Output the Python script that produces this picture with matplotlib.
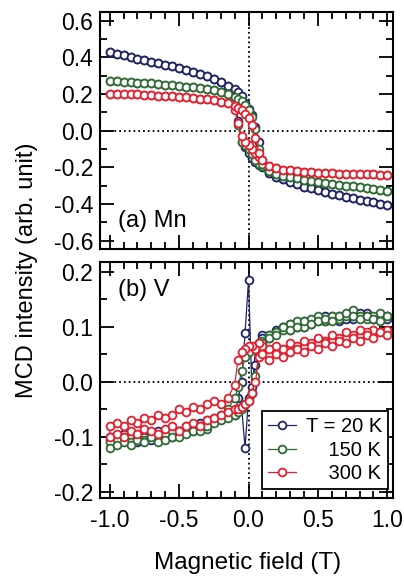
import matplotlib
matplotlib.use("Agg")
import matplotlib.pyplot as plt
from matplotlib.ticker import MultipleLocator

plt.rcParams['font.family'] = ['Liberation Sans', 'DejaVu Sans']
plt.rcParams['axes.unicode_minus'] = False

# ---------- data ----------
# field grid pieces (T)
H_NEG = [-1.0, -0.95, -0.9, -0.85, -0.8, -0.75, -0.7, -0.65, -0.6, -0.55,
         -0.5, -0.45, -0.4, -0.35, -0.3, -0.25, -0.2, -0.15]
H_MID = [-0.1, -0.075, -0.05, -0.025, 0.0, 0.025, 0.05, 0.075, 0.1]
H_POS = [0.15, 0.2, 0.25, 0.3, 0.35, 0.4, 0.45, 0.5, 0.55, 0.6,
         0.65, 0.7, 0.75, 0.8, 0.85, 0.9, 0.95, 1.0]

# padded so the legend labels line up on the right
labels = ["T = 20 K", "    150 K", "    300 K"]
colors = ["#1f2466", "#2f6b35", "#e41f2d"]

# (a) Mn -- both branches coincide away from zero field
mn20_neg = [0.43, 0.42, 0.41, 0.40, 0.392, 0.384, 0.376, 0.368, 0.36, 0.35,
            0.34, 0.33, 0.32, 0.31, 0.296, 0.28, 0.265, 0.245]
mn20_pos = [-0.23, -0.25, -0.265, -0.28, -0.293, -0.305, -0.315, -0.325, -0.334,
            -0.343, -0.352, -0.36, -0.368, -0.376, -0.384, -0.391, -0.398, -0.405]
mn20_up = [0.225, 0.21, 0.19, 0.15, 0.12, 0.085, 0.02, -0.06, -0.19]
mn20_dn = [0.19, 0.05, -0.06, -0.09, -0.12, -0.15, -0.17, -0.185, -0.2]

mn150_neg = [0.27, 0.268, 0.266, 0.264, 0.262, 0.26, 0.257, 0.254, 0.251, 0.248,
             0.244, 0.24, 0.236, 0.231, 0.226, 0.22, 0.212, 0.2]
mn150_pos = [-0.222, -0.235, -0.245, -0.253, -0.26, -0.267, -0.273, -0.279, -0.284,
             -0.289, -0.294, -0.299, -0.304, -0.309, -0.314, -0.319, -0.324, -0.33]
mn150_up = [0.185, 0.175, 0.16, 0.14, 0.11, 0.075, 0.01, -0.1, -0.18]
mn150_dn = [0.16, 0.03, -0.06, -0.08, -0.1, -0.13, -0.16, -0.18, -0.19]

mn300_neg = [0.2, 0.2, 0.199, 0.198, 0.197, 0.195, 0.193, 0.191, 0.189, 0.187,
             0.184, 0.181, 0.178, 0.174, 0.17, 0.165, 0.158, 0.148]
mn300_pos = [-0.195, -0.205, -0.212, -0.217, -0.221, -0.224, -0.227, -0.229, -0.231,
             -0.233, -0.234, -0.235, -0.236, -0.237, -0.238, -0.239, -0.24, -0.24]
mn300_up = [0.135, 0.125, 0.11, 0.09, 0.07, 0.03, -0.04, -0.12, -0.16]
mn300_dn = [0.11, 0.04, -0.03, -0.06, -0.08, -0.1, -0.12, -0.145, -0.16]

# (b) V -- noisy, branches listed separately (up: -1 -> +1, dn: +1 -> -1)
v20_up = [-0.105, -0.1, -0.105, -0.1, -0.11, -0.1, -0.105, -0.1, -0.095, -0.1,
          -0.09, -0.09, -0.085, -0.08, -0.08, -0.07, -0.065, -0.06,
          -0.055, -0.05, -0.045, -0.12, -0.03, -0.01, 0.03, 0.06, 0.08,
          0.08, 0.09, 0.1, 0.105, 0.1, 0.11, 0.105, 0.11, 0.12,
          0.115, 0.12, 0.115, 0.12, 0.125, 0.12, 0.115, 0.12, 0.115]
v20_dn = [-0.1, -0.105, -0.095, -0.1, -0.105, -0.095, -0.1, -0.09, -0.095, -0.085,
          -0.09, -0.08, -0.085, -0.075, -0.07, -0.065, -0.06, -0.06,
          -0.06, -0.03, 0.0, 0.088, 0.185, -0.02, 0.06, 0.07, 0.085,
          0.085, 0.095, 0.1, 0.095, 0.105, 0.1, 0.11, 0.115, 0.11,
          0.12, 0.11, 0.12, 0.115, 0.12, 0.125, 0.115, 0.12, 0.12]

v150_up = [-0.12, -0.115, -0.11, -0.115, -0.105, -0.11, -0.1, -0.11, -0.105, -0.1,
           -0.1, -0.095, -0.09, -0.09, -0.08, -0.075, -0.07, -0.065,
           -0.06, -0.055, -0.05, -0.04, -0.035, -0.02, 0.01, 0.05, 0.07,
           0.08, 0.085, 0.1, 0.095, 0.1, 0.11, 0.105, 0.11, 0.115,
           0.11, 0.12, 0.125, 0.12, 0.115, 0.12, 0.115, 0.11, 0.12]
v150_dn = [-0.11, -0.105, -0.1, -0.11, -0.1, -0.105, -0.095, -0.1, -0.095, -0.09,
           -0.095, -0.085, -0.09, -0.08, -0.085, -0.07, -0.065, -0.05,
           -0.03, -0.01, 0.02, 0.045, 0.055, 0.06, 0.065, 0.07, 0.075,
           0.085, 0.09, 0.095, 0.105, 0.11, 0.1, 0.115, 0.12, 0.11,
           0.12, 0.115, 0.12, 0.13, 0.12, 0.115, 0.12, 0.125, 0.12]

v300_up = [-0.1, -0.095, -0.1, -0.09, -0.095, -0.085, -0.09, -0.095, -0.085, -0.08,
           -0.09, -0.08, -0.075, -0.08, -0.07, -0.065, -0.06, -0.055,
           -0.05, -0.05, -0.045, -0.04, -0.035, -0.02, 0.0, 0.045, 0.05,
           0.04, 0.05, 0.045, 0.055, 0.06, 0.055, 0.065, 0.06, 0.07,
           0.065, 0.075, 0.07, 0.08, 0.075, 0.085, 0.08, 0.09, 0.085]
v300_dn = [-0.08, -0.075, -0.08, -0.07, -0.075, -0.065, -0.07, -0.06, -0.065, -0.06,
           -0.05, -0.055, -0.045, -0.05, -0.04, -0.035, -0.04, -0.03,
           -0.005, 0.04, 0.055, 0.06, 0.065, 0.065, 0.06, 0.07, 0.065,
           0.06, 0.065, 0.06, 0.07, 0.065, 0.075, 0.07, 0.08, 0.075,
           0.085, 0.08, 0.09, 0.085, 0.095, 0.09, 0.095, 0.09, 0.095]

H = H_NEG + H_MID + H_POS
mn_curves = [
    (mn20_neg + mn20_up + mn20_pos, mn20_neg + mn20_dn + mn20_pos),
    (mn150_neg + mn150_up + mn150_pos, mn150_neg + mn150_dn + mn150_pos),
    (mn300_neg + mn300_up + mn300_pos, mn300_neg + mn300_dn + mn300_pos),
]
v_curves = [(v20_up, v20_dn), (v150_up, v150_dn), (v300_up, v300_dn)]


def draw_loop(ax, up, dn, color, label=None):
    # sweep down from +1 T then back up from -1 T
    xs = H[::-1] + H
    ys = dn[::-1] + up
    ax.plot(xs, ys, '-', color=color, lw=0.9, marker='o', ms=5.6,
            mfc='white', mec=color, mew=1.3, label=label)


def style_axes(ax, ymajor, yminor):
    ax.xaxis.set_major_locator(MultipleLocator(0.5))
    ax.xaxis.set_minor_locator(MultipleLocator(0.1))
    ax.yaxis.set_major_locator(MultipleLocator(ymajor))
    ax.yaxis.set_minor_locator(MultipleLocator(yminor))
    ax.tick_params(which='both', direction='in', top=True, right=True,
                   labelsize=16.5, width=1.3)
    ax.tick_params(which='major', length=10)
    ax.tick_params(which='minor', length=5)
    ax.tick_params(axis='y', pad=5)
    for s in ax.spines.values():
        s.set_linewidth(1.5)
    ax.axhline(0, color='black', ls=':', lw=1.3, zorder=1)
    ax.axvline(0, color='black', ls=':', lw=1.3, zorder=1)


fig = plt.figure(figsize=(4.04, 5.76), dpi=100)
ax1 = fig.add_axes([0.2475, 0.5677, 0.725, 0.411])
ax2 = fig.add_axes([0.2475, 0.1354, 0.725, 0.41])

for (up, dn), c in zip(mn_curves, colors):
    draw_loop(ax1, up, dn, c)
for (up, dn), c, lab in zip(v_curves, colors, labels):
    draw_loop(ax2, up, dn, c, lab)

ax1.set_xlim(-1.07, 1.04)
ax1.set_ylim(-0.645, 0.645)
style_axes(ax1, 0.2, 0.1)
ax1.set_yticks([-0.6, -0.4, -0.2, 0.0, 0.2, 0.4, 0.6])
ax1.set_yticklabels(["-0.6", "-0.4", "-0.2", "0.0", "0.2", "0.4", "0.6"])
ax1.tick_params(labelbottom=False)
ax1.text(0.062, 0.095, "(a) Mn", transform=ax1.transAxes, fontsize=17)

ax2.set_xlim(-1.07, 1.04)
ax2.set_ylim(-0.211, 0.218)
style_axes(ax2, 0.1, 0.05)
ax2.set_yticks([-0.2, -0.1, 0.0, 0.1, 0.2])
ax2.set_yticklabels(["-0.2", "-0.1", "0.0", "0.1", "0.2"])
ax2.set_xticks([-1.0, -0.5, 0.0, 0.5, 1.0])
ax2.set_xticklabels(["-1.0", "-0.5", "0.0", "0.5", "1.0"])
ax2.tick_params(axis='x', pad=8)
ax2.text(0.062, 0.855, "(b) V", transform=ax2.transAxes, fontsize=17)

leg = ax2.legend(loc='lower right', bbox_to_anchor=(0.983, 0.038),
                 fontsize=14.5, frameon=True, fancybox=False, framealpha=1,
                 edgecolor='black', handlelength=1.35, handletextpad=0.5,
                 borderpad=0.3, labelspacing=0.22, borderaxespad=0)
leg.get_frame().set_linewidth(1.3)

fig.text(0.067, 0.53, "MCD intensity (arb. unit)", rotation=90,
         ha='center', va='center', fontsize=17)
fig.text(0.612, 0.022, "Magnetic field (T)", ha='center', va='center',
         fontsize=17.5)

fig.savefig("out.png", dpi=100)
